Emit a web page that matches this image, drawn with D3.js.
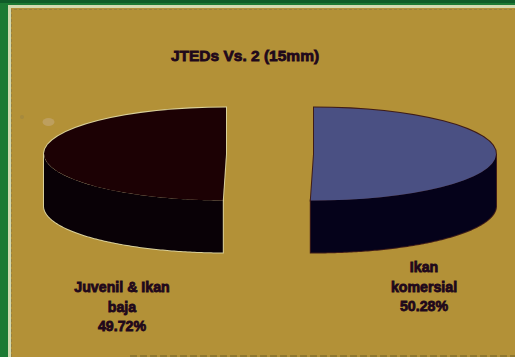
<!DOCTYPE html>
<html>
<head>
<meta charset="utf-8">
<script src="https://cdn.jsdelivr.net/npm/d3@7"></script>
<style>
  html, body { margin: 0; padding: 0; background: #1c7a33; }
  svg { display: block; }
  text { font-family: "Liberation Sans", Arial, sans-serif; font-weight: bold; fill: #1f081b; text-anchor: middle; }
</style>
</head>
<body>
<svg id="chart" width="515" height="357"></svg>
<script>
// Share of catch per group for the 15 mm trap
const categories = ["Ikan komersial", "Juvenil & Ikan baja"];
const shares = [50.28, 49.72];
const shareLabels = ["50.28%", "49.72%"];
const labelLines = [["Ikan", "komersial"], ["Juvenil & Ikan", "baja"]];
const chartTitle = "JTEDs Vs. 2 (15mm)";
const topColours = ["#4a5083", "#1c0104"];
const sideColours = ["#05021a", "#090106"];
const edgeColours = ["#3f1c18", "#d9d09a"];

const width = 515, height = 357;
const radiusX = 182, radiusY = 46.5, depth = 52;
const centres = [[314, 154], [226, 154]];
const labelPos = [[424, 272], [122, 292]];
const lineStep = 19.7;

const svg = d3.select("#chart");

// Green board, pale frame and the ochre panel inside it
svg.append("rect").attr("width", width).attr("height", height).attr("fill", "#1c7a33");
svg.append("rect").attr("width", width).attr("height", 3).attr("fill", "#0f5c28");
svg.append("rect").attr("x", 8).attr("y", 5).attr("width", width).attr("height", height)
  .attr("fill", "#d3dab0");
svg.append("rect").attr("x", 11).attr("y", 8).attr("width", width).attr("height", height)
  .attr("fill", "#b39137");
svg.append("path").attr("d", `M11.5,${height}V9.5H${width}`)
  .attr("fill", "none").attr("stroke", "#8d7a45").attr("stroke-width", 1)
  .attr("stroke-dasharray", "3 2").attr("opacity", 0.7);
svg.append("path").attr("d", `M130,${height - 1}H${width}`)
  .attr("stroke", "#85702f").attr("stroke-width", 1.5).attr("stroke-dasharray", "7 3");

// Small stains on the panel
svg.append("ellipse").attr("cx", 48.5).attr("cy", 122).attr("rx", 6).attr("ry", 4).attr("fill", "#bd9f5e");
svg.append("circle").attr("cx", 22).attr("cy", 117).attr("r", 2).attr("fill", "#a68a3e");

svg.append("text").attr("x", 245).attr("y", 61).attr("font-size", 15.5)
  .attr("stroke", "#1f081b").attr("stroke-width", 0.8).text(chartTitle);

const slices = d3.pie().sort(null)(shares);
const arcTop = d3.arc().innerRadius(0).outerRadius(radiusX);

// Rim of a slice: only the front half of the ellipse is visible
const rim = (cx, cy) => d3.area()
  .x(a => cx + radiusX * Math.sin(a))
  .y0(a => cy - radiusY * Math.cos(a))
  .y1(a => cy - radiusY * Math.cos(a) + depth);

slices.forEach((s, i) => {
  const [cx, cy] = centres[i];
  const from = Math.max(s.startAngle, Math.PI / 2);
  const to = Math.min(s.endAngle, 3 * Math.PI / 2);
  const angles = d3.range(0, 121).map(k => from + (to - from) * k / 120);
  const g = svg.append("g");
  const topTransform = `translate(${cx},${cy}) scale(1,${radiusY / radiusX})`;
  const rimPath = rim(cx, cy)(angles);

  // Outline pass first, so the fills hide the seam between top and rim
  g.append("path").attr("d", rimPath).attr("fill", "none")
    .attr("stroke", edgeColours[i]).attr("stroke-width", 2);
  g.append("path").attr("d", arcTop(s)).attr("transform", topTransform).attr("fill", "none")
    .attr("stroke", edgeColours[i]).attr("stroke-width", 2).attr("vector-effect", "non-scaling-stroke");

  g.append("path").attr("d", rimPath).attr("fill", sideColours[i]);
  g.append("path").attr("d", arcTop(s)).attr("transform", topTransform).attr("fill", topColours[i]);

  const [lx, ly] = labelPos[i];
  const lines = [...labelLines[i], shareLabels[i]];
  const label = svg.append("text").attr("font-size", 14.2)
    .attr("stroke", "#1f081b").attr("stroke-width", 0.8);
  lines.forEach((t, j) => label.append("tspan").attr("x", lx).attr("y", ly + j * lineStep).text(t));
  label.append("title").text(categories[i]);
});
</script>
</body>
</html>
